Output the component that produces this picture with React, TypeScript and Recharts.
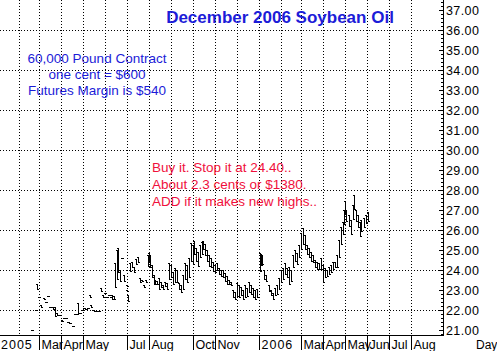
import React from "react";
import { ComposedChart, Bar, XAxis, YAxis, CartesianGrid } from "recharts";

// day = days since 2005-01-01 ; each entry [day, high, low]
const bars2005Spring: [number, number, number][] = [
  [49, 20.98, 20.93], [55, 21.98, 21.93], [56, 23.3, 23.0], [59, 22.67, 22.62],
  [62, 22.25, 22.1], [66, 22.6, 22.5], [69, 22.42, 22.37], [71, 22.72, 22.67],
  [74, 22.17, 22.12], [78, 22.15, 22.0], [81, 22.15, 21.65], [84, 21.85, 21.7],
  [87, 21.77, 21.72], [91, 21.5, 21.4], [94, 21.62, 21.57], [96, 21.62, 21.57],
  [99, 21.42, 21.37], [102, 21.37, 21.32], [106, 21.22, 21.17], [109, 21.82, 21.77],
  [112, 21.82, 21.77], [113, 22.35, 21.8], [116, 21.87, 21.82], [119, 22.02, 21.97],
  [122, 22.12, 22.07], [124, 22.07, 22.02], [127, 22.12, 22.07], [130, 22.75, 22.6],
  [131, 22.25, 22.1], [134, 22.02, 21.97], [137, 21.97, 21.92], [140, 21.97, 21.92],
  [142, 21.97, 21.92], [145, 23.1, 22.9], [148, 22.75, 22.6], [151, 22.87, 22.82],
  [154, 22.67, 22.62], [156, 22.77, 22.72], [159, 22.67, 22.62], [161, 22.75, 22.5],
  [163, 22.7, 22.5],
];

const bars2005Summer: [number, number, number][] = [
  [165, 24.35, 23.1], [168, 25.0, 23.5], [169, 25.1, 23.85], [172, 24.0, 23.4],
  [174, 24.62, 24.55], [177, 23.75, 23.4], [181, 23.25, 23.15], [182, 23.0, 22.9],
  [183, 22.75, 22.4], [186, 24.35, 23.9], [188, 24.4, 24.1], [191, 24.15, 23.85],
  [194, 24.55, 24.25], [197, 24.65, 24.35], [199, 23.6, 23.35], [202, 23.5, 23.4],
  [205, 23.25, 23.1], [208, 23.5, 23.35], [211, 24.75, 24.15], [212, 24.85, 24.35],
  [213, 24.75, 24.1], [216, 24.25, 23.6], [219, 23.75, 23.25], [220, 23.5, 23.25],
  [223, 23.45, 23.25], [226, 23.6, 23.0], [229, 23.4, 23.1], [232, 23.25, 23.0],
  [234, 23.4, 23.15], [237, 23.35, 23.0], [240, 24.35, 23.5], [243, 24.25, 23.6],
  [245, 23.9, 23.25], [248, 24.1, 23.35], [251, 24.0, 23.35], [254, 23.35, 23.0],
  [257, 23.25, 22.85], [259, 23.75, 23.0], [262, 24.35, 23.5], [265, 24.25, 23.35],
  [268, 24.6, 23.6],
];

const bars2005Fall: [number, number, number][] = [
  [271, 25.35, 24.4], [273, 25.25, 24.25], [275, 25.45, 24.75], [277, 25.1, 24.4],
  [280, 24.9, 24.15], [283, 25.25, 24.6], [286, 25.4, 24.75], [287, 25.45, 25.0],
  [290, 25.3, 24.7], [293, 25.0, 24.4], [296, 24.75, 24.15], [298, 24.6, 24.1],
  [301, 24.4, 23.9], [304, 24.25, 23.85], [307, 24.35, 23.95], [310, 24.1, 23.75],
  [312, 24.0, 23.65], [315, 24.0, 23.6], [318, 23.85, 23.4], [321, 23.7, 23.25],
  [324, 23.5, 23.25], [326, 23.4, 23.2], [329, 23.0, 22.6], [332, 22.9, 22.5],
  [335, 23.35, 22.65], [338, 23.25, 22.6], [340, 23.15, 22.7], [343, 23.0, 22.5],
  [346, 23.25, 22.6], [349, 23.1, 22.65], [351, 23.4, 22.85], [354, 23.25, 22.75],
  [357, 23.1, 22.6], [360, 23.0, 22.5], [363, 23.05, 22.6],
];

const bars2006: [number, number, number][] = [
  [367, 24.85, 23.9], [368, 24.8, 24.2], [370, 24.75, 24.25], [372, 24.0, 23.5],
  [375, 23.75, 23.4], [379, 23.25, 22.9], [382, 23.0, 22.7], [385, 22.85, 22.5],
  [388, 23.1, 22.7], [390, 23.25, 22.75], [393, 23.6, 23.0], [396, 24.0, 23.35],
  [399, 24.1, 23.5], [402, 24.35, 23.75], [404, 24.1, 23.6], [407, 24.15, 23.25],
  [410, 24.0, 23.4], [413, 24.75, 24.1], [415, 25.0, 24.4], [418, 24.85, 24.25],
  [421, 25.25, 24.6], [424, 25.85, 25.0], [427, 26.1, 25.25], [430, 25.75, 25.0],
  [432, 25.25, 24.75], [435, 25.1, 24.6], [438, 24.9, 24.4], [441, 24.75, 24.35],
  [443, 24.5, 24.1], [446, 24.4, 24.0], [449, 24.35, 24.0], [452, 24.6, 24.0],
  [455, 24.25, 23.35], [457, 24.1, 23.6], [460, 24.0, 23.65], [463, 24.15, 23.75],
  [466, 24.25, 23.85], [469, 24.4, 24.0], [471, 24.4, 24.1], [474, 24.75, 24.1],
  [477, 25.5, 24.6], [480, 26.15, 25.25], [482, 26.4, 25.75], [483, 27.0, 26.25],
  [485, 27.47, 26.75], [487, 27.0, 26.4], [490, 26.75, 26.15], [493, 26.5, 25.75],
  [496, 27.25, 26.5], [497, 27.75, 27.0], [500, 27.0, 26.4], [503, 26.75, 26.1],
  [506, 26.4, 25.65], [508, 26.5, 25.9], [511, 26.6, 26.1], [514, 26.75, 26.3],
  [517, 26.9, 26.4],
];

// month starts (days since 2005-01-01)
const monthStarts = [31, 59, 90, 120, 151, 181, 212, 243, 273, 304, 334, 365, 396, 424, 455, 485, 516, 546, 577];
const monthLabels: Record<number, string> = {
  59: "Mar", 90: "Apr", 120: "May", 181: "Jul", 212: "Aug", 273: "Oct", 304: "Nov",
  365: "2006", 424: "Mar", 455: "Apr", 485: "May", 516: "Jun", 546: "Jul", 577: "Aug",
};
const firstYearLabel = "2005";
const priceLabels = [21, 22, 23, 24, 25, 26, 27, 28, 29, 30, 31, 32, 33, 34, 35, 36, 37];
const gridPrices = [22, 24, 26, 28, 30, 32, 34, 36];

const title = "December 2006 Soybean Oil";
const infoLines = ["60,000 Pound Contract", "one cent = $600", "Futures Margin is $540"];
const noteLines = ["Buy it. Stop it at 24.40..", "About 2.3 cents or $1380.", "ADD if it makes new highs.."];

const X_DOMAIN: [number, number] = [4.5, 621.5];
const Y_DOMAIN: [number, number] = [20.75, 37.5];

const data = [...bars2005Spring, ...bars2005Summer, ...bars2005Fall, ...bars2006].map(
  ([day, high, low]) => ({ day, high, low })
);

const minorTicks: number[] = [];
for (let i = 104; i <= 187; i++) minorTicks.push(i / 5);

const FONT = "'Liberation Sans', Arial, sans-serif";

const BarShape = (props: any) => {
  const { x, y, width, height } = props;
  if (x == null || y == null) return <g />;
  const cx = Math.round(x + width / 2);
  const top = Math.round(y);
  const bottom = Math.max(top + 1, Math.round(y + height));
  return (
    <g>
      <rect x={cx} y={top} width={1} height={bottom - top} fill="#000" />
      <rect x={cx - 1} y={top} width={1} height={1} fill="#000" />
      <rect x={cx + 1} y={bottom - 1} width={1} height={1} fill="#000" />
    </g>
  );
};

const YTick = (props: any) => {
  const { y, payload } = props;
  const v = payload.value as number;
  const major = Math.abs(v - Math.round(v)) < 1e-6;
  const yy = Math.round(y) + 0.5;
  const ax = 443;
  return (
    <g>
      <line x1={ax - (major ? 4 : 2)} x2={ax} y1={yy} y2={yy} stroke="#000" strokeWidth={1} />
      {major && priceLabels.includes(Math.round(v)) ? (
        <text x={ax + 3} y={yy + 4.5} fontSize={12.5} fontFamily={FONT} fill="#000" letterSpacing={0.4}>
          {v.toFixed(2)}
        </text>
      ) : null}
    </g>
  );
};

const XTick = (props: any) => {
  const { x, payload } = props;
  const v = payload.value as number;
  if (v < monthStarts[0]) {
    return (
      <text x={1} y={349} fontSize={12.5} fontFamily={FONT} fill="#000" letterSpacing={1}>
        {firstYearLabel}
      </text>
    );
  }
  const label = monthLabels[v];
  if (!label) return <g />;
  const xx = Math.round(x) + 0.5;
  const isYear = /^\d+$/.test(label);
  return (
    <g>
      <line x1={xx} x2={xx} y1={336} y2={350} stroke="#000" />
      <text x={xx + 2} y={349} fontSize={12.5} fontFamily={FONT} fill="#000" letterSpacing={isYear ? 1 : 0}>
        {label}
      </text>
    </g>
  );
};

const hLine = (props: any) => {
  const y = Math.round(props.y1) + 0.5;
  return (
    <line key={"h" + props.index + "-" + y} x1={props.x1} x2={props.x2} y1={y} y2={y}
      stroke="#000" strokeDasharray="1 2" strokeWidth={1} />
  );
};
const vLine = (props: any) => {
  const x = Math.round(props.x1) + 0.5;
  return (
    <line key={"v" + props.index + "-" + x} x1={x} x2={x} y1={props.y1} y2={props.y2}
      stroke="#000" strokeDasharray="1 2" strokeWidth={1} />
  );
};

export default function App() {
  return (
    <div style={{ position: "absolute", left: 0, top: 0, width: 497, height: 351, background: "#fff" }}>
      <ComposedChart
        width={497}
        height={351}
        data={data}
        margin={{ top: 0, right: 0, bottom: 0, left: 0 }}
      >
        <CartesianGrid
          horizontal={hLine}
          vertical={vLine}
          horizontalValues={gridPrices}
          verticalValues={monthStarts}
        />
        <XAxis
          dataKey="day"
          type="number"
          domain={X_DOMAIN}
          allowDataOverflow
          ticks={[X_DOMAIN[0] + 0.1, ...monthStarts]}
          interval={0}
          tick={<XTick />}
          tickLine={false}
          axisLine={false}
          tickSize={0}
          tickMargin={0}
          height={16}
        />
        <YAxis
          orientation="right"
          type="number"
          domain={Y_DOMAIN}
          allowDataOverflow
          ticks={minorTicks}
          interval={0}
          tick={<YTick />}
          tickLine={false}
          axisLine={false}
          tickSize={0}
          tickMargin={0}
          width={54}
        />
        <Bar
          dataKey={(d: any) => [d.low, d.high]}
          barSize={2}
          shape={<BarShape />}
          isAnimationActive={false}
        />
      </ComposedChart>
      <svg width={497} height={351} style={{ position: "absolute", left: 0, top: 0, pointerEvents: "none" }}>
        <line x1={443.5} x2={443.5} y1={0} y2={336} stroke="#000" />
        <line x1={0} x2={444} y1={335.5} y2={335.5} stroke="#000" />
        <text x={280} y={23} textAnchor="middle" fontSize={17} fontWeight="bold" fontFamily={FONT} fill="#1c1cd8">
          {title}
        </text>
        {infoLines.map((t, i) => (
          <text key={t} x={97} y={63 + i * 16} textAnchor="middle" fontSize={13.5} fontFamily={FONT} fill="#1c1cd8">
            {t}
          </text>
        ))}
        {noteLines.map((t, i) => (
          <text key={t} x={152} y={172 + i * 17} fontSize={13.5} fontFamily={FONT} fill="#f0103c">
            {t}
          </text>
        ))}
        <text x={476} y={349} fontSize={12} fontFamily={FONT} fill="#000">Day</text>
      </svg>
    </div>
  );
}
